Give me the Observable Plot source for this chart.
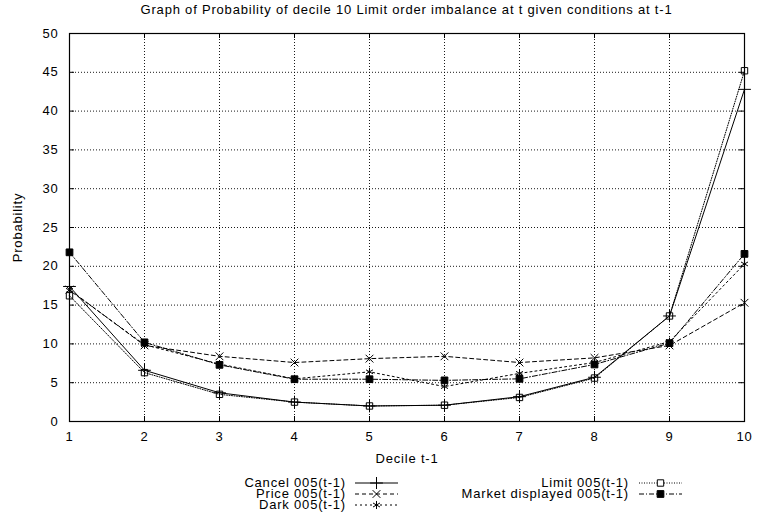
<!DOCTYPE html>
<html><head><meta charset="utf-8">
<script src="https://cdn.jsdelivr.net/npm/d3@7"></script>
<script src="https://cdn.jsdelivr.net/npm/@observablehq/plot@0.6"></script>
<style>
body{margin:0;background:#fff;font-family:"Liberation Sans",Arial,sans-serif;}
#wrap{position:relative;width:757px;height:531px;overflow:hidden;}
#title{position:absolute;left:69px;width:675px;top:0;height:20px;line-height:20px;text-align:center;font-size:13px;letter-spacing:0.8px;color:#000;}
#chart{position:absolute;left:0;top:20px;}
.leg{position:absolute;font-size:13px;letter-spacing:0.8px;line-height:11px;height:11px;white-space:nowrap;text-align:right;color:#000;}
.samp{position:absolute;}
</style></head><body>
<div id="wrap"><div id="title"></div><div id="chart"></div><div id="legend"></div></div>
<script>
// ---- data ----
const titleText = "Graph of Probability of decile 10 Limit order imbalance at t given conditions at t-1";
const xLabel = "Decile t-1";
const yLabel = "Probability";
const deciles = [1, 2, 3, 4, 5, 6, 7, 8, 9, 10];
const yTicks = [0, 5, 10, 15, 20, 25, 30, 35, 40, 45, 50];
const seriesNames = ["Cancel 005(t-1)", "Price 005(t-1)", "Dark 005(t-1)", "Limit 005(t-1)", "Market displayed 005(t-1)"];
const cancel = [17.4, 6.6, 3.7, 2.5, 2.0, 2.1, 3.2, 5.7, 13.6, 42.8];
const price  = [17.0, 9.8, 8.4, 7.6, 8.1, 8.4, 7.6, 8.2, 9.8, 15.3];
const dark   = [16.9, 9.9, 7.4, 5.5, 6.4, 4.5, 6.2, 7.6, 10.3, 20.3];
const limit  = [16.2, 6.3, 3.5, 2.5, 2.0, 2.1, 3.1, 5.6, 13.6, 45.2];
const market = [21.8, 10.2, 7.3, 5.45, 5.45, 5.3, 5.5, 7.35, 10.1, 21.6];
const seriesValues = [cancel, price, dark, limit, market];

// ---- styles (separate from data) ----
const styles = {
  "Cancel 005(t-1)": {dash: null, symbol: "plus", sym: d3.symbolPlus, fill: "none", r: 4.2},
  "Price 005(t-1)": {dash: "4,3", symbol: "times", sym: d3.symbolTimes, fill: "none", r: 3.6},
  "Dark 005(t-1)": {dash: "2,3", symbol: "asterisk", sym: d3.symbolAsterisk, fill: "none", r: 3.8},
  "Limit 005(t-1)": {dash: "1,1.5", symbol: "square", sym: d3.symbolSquare, fill: "none", r: 3.6},
  "Market displayed 005(t-1)": {dash: "5,2,1,2", symbol: "square", sym: d3.symbolSquare, fill: "#000", r: 3.8}
};

document.getElementById("title").textContent = titleText;

const W = 757, H = 448, mL = 69, mR = 13, mT = 13, mB = 47;
const fw = W - mL - mR, fh = H - mT - mB;

const rows = seriesNames.flatMap((name, i) => deciles.map((d, j) => ({series: name, x: d, y: seriesValues[i][j]})));

const gridStyle = {stroke: "#000", strokeOpacity: 0.9, strokeDasharray: "1,2", strokeWidth: 1};
const marks = [
  Plot.gridX(deciles, gridStyle),
  Plot.gridY(yTicks, gridStyle),
  Plot.tickY(yTicks, {y: d => d, insetRight: fw - 5, stroke: "#000"}),
  Plot.tickY(yTicks, {y: d => d, insetLeft: fw - 5, stroke: "#000"}),
  Plot.tickX(deciles, {x: d => d, insetTop: fh - 5, stroke: "#000"}),
  Plot.tickX(deciles, {x: d => d, insetBottom: fh - 5, stroke: "#000"}),
  Plot.axisX(deciles, {tickSize: 0, tickPadding: 10, label: null, tickFormat: d => String(d)}),
  Plot.axisY(yTicks, {tickSize: 0, tickPadding: 11, label: null, tickFormat: d => String(d)}),
  Plot.frame({stroke: "#000", strokeWidth: 1.2})
];
for (const name of seriesNames) {
  const s = styles[name];
  const data = rows.filter(r => r.series === name);
  marks.push(Plot.line(data, {x: "x", y: "y", stroke: "#000", strokeWidth: 1, strokeDasharray: s.dash}));
  marks.push(Plot.dot(data, {x: "x", y: "y", symbol: s.symbol, r: s.r, stroke: "#000", fill: s.fill, strokeWidth: 1}));
}
marks.push(Plot.text([yLabel], {text: d => d, frameAnchor: "left", dx: -52, rotate: -90, textAnchor: "middle", lineAnchor: "middle", fontSize: 13}));
marks.push(Plot.text([xLabel], {text: d => d, frameAnchor: "bottom", dy: 37, textAnchor: "middle", lineAnchor: "middle", fontSize: 13}));

const chart = Plot.plot({
  width: W, height: H,
  marginLeft: mL, marginRight: mR, marginTop: mT, marginBottom: mB,
  x: {domain: [1, 10]},
  y: {domain: [0, 50]},
  style: {fontFamily: '"Liberation Sans", Arial, sans-serif', fontSize: "13px", letterSpacing: "0.8px", color: "#000", background: "#fff"},
  marks
});
document.getElementById("chart").appendChild(chart);

// ---- legend ----
const legend = document.getElementById("legend");
const legendLayout = [
  {col: 0, row: 0}, {col: 0, row: 1}, {col: 0, row: 2}, {col: 1, row: 0}, {col: 1, row: 1}
];
const colTextRight = [346, 629];
const colSampleLeft = [355, 639];
const rowBaseline = [487, 498, 509];
seriesNames.forEach((name, i) => {
  const s = styles[name];
  const {col, row} = legendLayout[i];
  const div = document.createElement("div");
  div.className = "leg";
  div.textContent = name;
  div.style.right = (757 - colTextRight[col]) + "px";
  div.style.top = (rowBaseline[row] - 10) + "px";
  legend.appendChild(div);
  const svg = d3.create("svg").attr("class", "samp").attr("width", 44).attr("height", 12)
    .style("left", colSampleLeft[col] + "px").style("top", (rowBaseline[row] - 10.5) + "px");
  svg.append("line").attr("x1", 0).attr("x2", 43).attr("y1", 6).attr("y2", 6)
    .attr("stroke", "#000").attr("stroke-width", 1).attr("stroke-dasharray", s.dash);
  svg.append("path").attr("transform", "translate(21.5,6)")
    .attr("d", d3.symbol(s.sym, Math.PI * s.r * s.r)())
    .attr("stroke", "#000").attr("fill", s.fill === "none" ? "#fff" : s.fill);
  legend.appendChild(svg.node());
});
</script>
</body></html>
